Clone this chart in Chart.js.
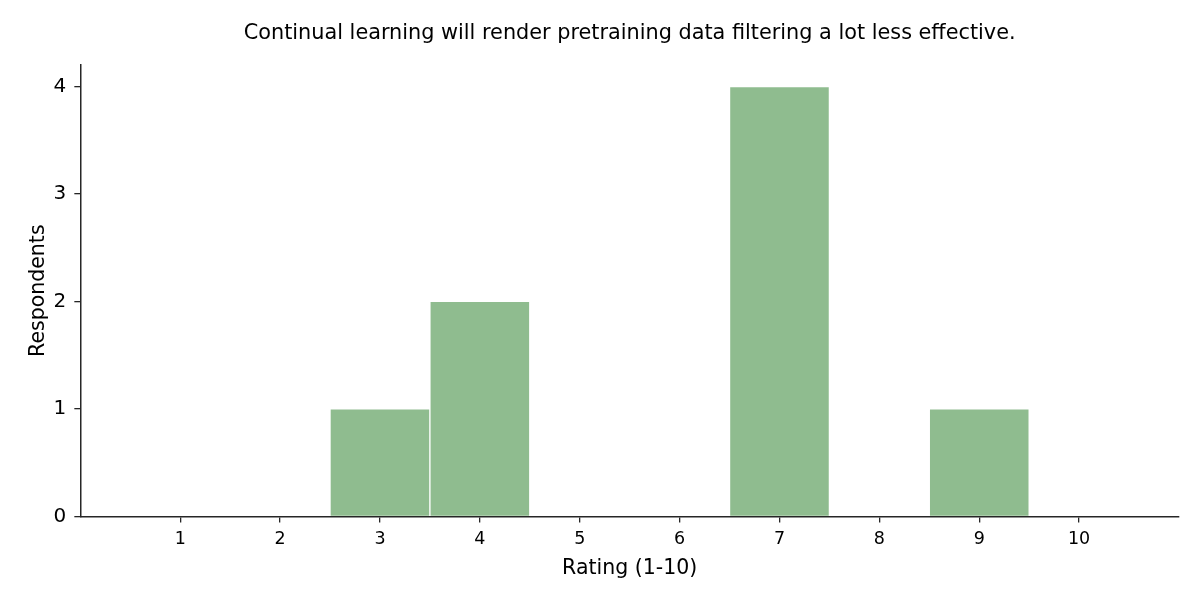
<!DOCTYPE html>
<html lang="en">
<head>
  <meta charset="UTF-8">
  <title>Continual learning rating</title>
  <script src="https://cdn.jsdelivr.net/npm/chart.js"></script>
  <style>
    html, body {
      margin: 0;
      padding: 0;
      background: #fff;
    }
    #wrap {
      width: 1200px;
      height: 600px;
    }
  </style>
</head>
<body>
  <div id="wrap"><canvas id="myChart"></canvas></div>

  <script>
    // survey results: rating -> number of respondents
    const ratings = [3, 4, 7, 9];
    const respondents = [1, 2, 4, 1];
    const xTicks = [1, 2, 3, 4, 5, 6, 7, 8, 9, 10];
    const yTicks = [0, 1, 2, 3, 4];

    const titleText = "Continual learning will render pretraining data filtering a lot less effective.";
    const axisColor = "#262626";
    const font = "'DejaVu Sans', sans-serif";

    const ctx = document.getElementById("myChart").getContext("2d");

    new Chart(ctx, {
      type: "bar",
      data: {
        datasets: [
          {
            label: "Respondents",
            data: ratings.map((r, i) => ({ x: r, y: respondents[i] })),
            backgroundColor: "#8fbc8f",
            borderColor: "#ffffff",
            borderWidth: 1,
            borderSkipped: "start",
            barPercentage: 1,
            categoryPercentage: 1,
          },
        ],
      },
      options: {
        responsive: true,
        maintainAspectRatio: false,
        animation: false,
        layout: { padding: { left: 26, right: 21, top: 6, bottom: 19 } },
        plugins: {
          legend: { display: false },
          tooltip: { enabled: false },
          title: {
            display: true,
            fullSize: false, // center over the plot area like matplotlib
            text: titleText,
            color: "#000",
            font: { family: font, size: 20.8, weight: "normal" },
            padding: { top: 15, bottom: 19 },
          },
        },
        scales: {
          x: {
            type: "linear",
            min: 0,
            max: 11,
            offset: false,
            afterBuildTicks: (scale) => {
              scale.ticks = xTicks.map((v) => ({ value: v }));
            },
            grid: {
              display: true,
              offset: false,
              drawOnChartArea: false,
              drawTicks: true,
              tickLength: 6,
              color: axisColor,
              lineWidth: 1.3,
            },
            border: { display: true, color: axisColor, width: 1.5 },
            ticks: {
              color: "#000",
              font: { family: font, size: 17.5 },
              padding: 7,
              maxRotation: 0,
            },
            title: {
              display: true,
              text: "Rating (1-10)",
              color: "#000",
              font: { family: font, size: 20.5 },
              padding: { top: -1, bottom: 0 },
            },
          },
          y: {
            min: 0,
            max: 4.2,
            afterBuildTicks: (scale) => {
              scale.ticks = yTicks.map((v) => ({ value: v }));
            },
            grid: {
              display: true,
              drawOnChartArea: false,
              drawTicks: true,
              tickLength: 6,
              color: axisColor,
              lineWidth: 1.3,
            },
            border: { display: true, color: axisColor, width: 1.5 },
            ticks: {
              color: "#000",
              font: { family: font, size: 20 },
              padding: 8,
            },
            title: {
              display: true,
              text: "Respondents",
              color: "#000",
              font: { family: font, size: 20.5 },
              padding: { top: 0, bottom: -5 },
            },
          },
        },
      },
    });
  </script>
</body>
</html>
